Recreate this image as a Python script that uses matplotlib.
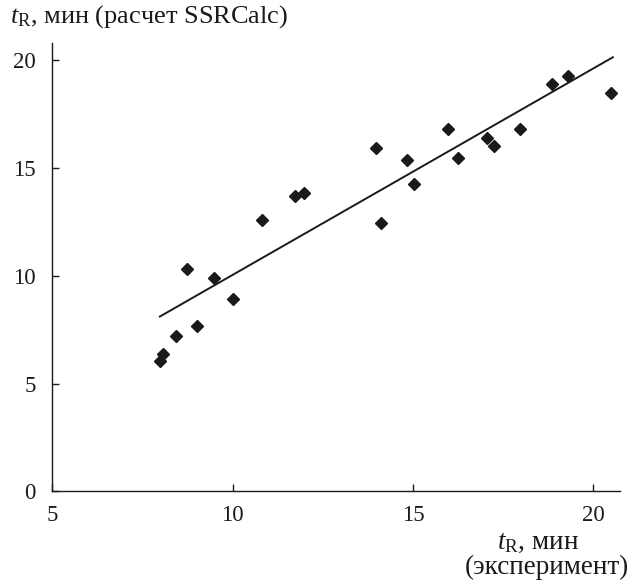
import matplotlib
matplotlib.use('Agg')
import matplotlib.pyplot as plt

# Experimental vs calculated (SSRCalc) retention times, min
t_exp = [7.98, 8.06, 8.43, 8.72, 9.00, 9.48, 10.02, 10.80, 11.73, 11.98, 13.96,
         14.10, 14.82, 15.02, 15.96, 16.25, 17.05, 17.23, 17.97, 18.85, 19.29, 20.49]
t_calc = [6.04, 6.38, 7.23, 10.30, 7.68, 9.91, 8.94, 12.61, 13.70, 13.83, 15.92,
          12.45, 15.39, 14.25, 16.83, 15.47, 16.38, 16.04, 16.80, 18.89, 19.28, 18.46]

# regression line end points
fit_x = [7.98, 20.54]
fit_y = [8.11, 20.14]

xticks = [5, 10, 15, 20]
yticks = [0, 5, 10, 15, 20]

plt.rcParams['font.family'] = ['Liberation Serif', 'DejaVu Serif']
plt.rcParams['mathtext.fontset'] = 'custom'
plt.rcParams['mathtext.rm'] = 'Liberation Serif'
plt.rcParams['mathtext.it'] = 'Liberation Serif:italic'

fig = plt.figure(figsize=(6.35, 5.85), dpi=100)
ax = fig.add_axes([0.0824, 0.160, 0.8936, 0.7665])

ax.plot(fit_x, fit_y, color='#1a1a1a', linewidth=1.4)
ax.plot(t_exp, t_calc, linestyle='none', marker='D', markersize=6.3,
        color='#1a1a1a')

ax.set_xlim(5, 20.73)
ax.set_ylim(0, 20.8)
ax.set_xticks(xticks)
ax.set_yticks(yticks)

for side in ['top', 'right']:
    ax.spines[side].set_visible(False)
for side in ['left', 'bottom']:
    ax.spines[side].set_linewidth(1.0)
    ax.spines[side].set_color('#1a1a1a')

ax.tick_params(axis='both', direction='in', length=5, width=1.0,
               labelsize=16.5, colors='#1a1a1a')
ax.tick_params(axis='y', pad=12)
ax.tick_params(axis='x', pad=10)

fig.text(10 / 635, 1 - 23 / 585, r'$t_\mathrm{R}$, мин (расчет SSRCalc)',
         fontsize=19, va='baseline', ha='left', color='#1a1a1a')
fig.text(538 / 635, 1 - 549 / 585, r'$t_\mathrm{R}$, мин',
         fontsize=19.5, va='baseline', ha='center', color='#1a1a1a')
fig.text(547 / 635, 1 - 574 / 585, '(эксперимент)',
         fontsize=19.5, va='baseline', ha='center', color='#1a1a1a')

fig.savefig('out.png', dpi=100)
